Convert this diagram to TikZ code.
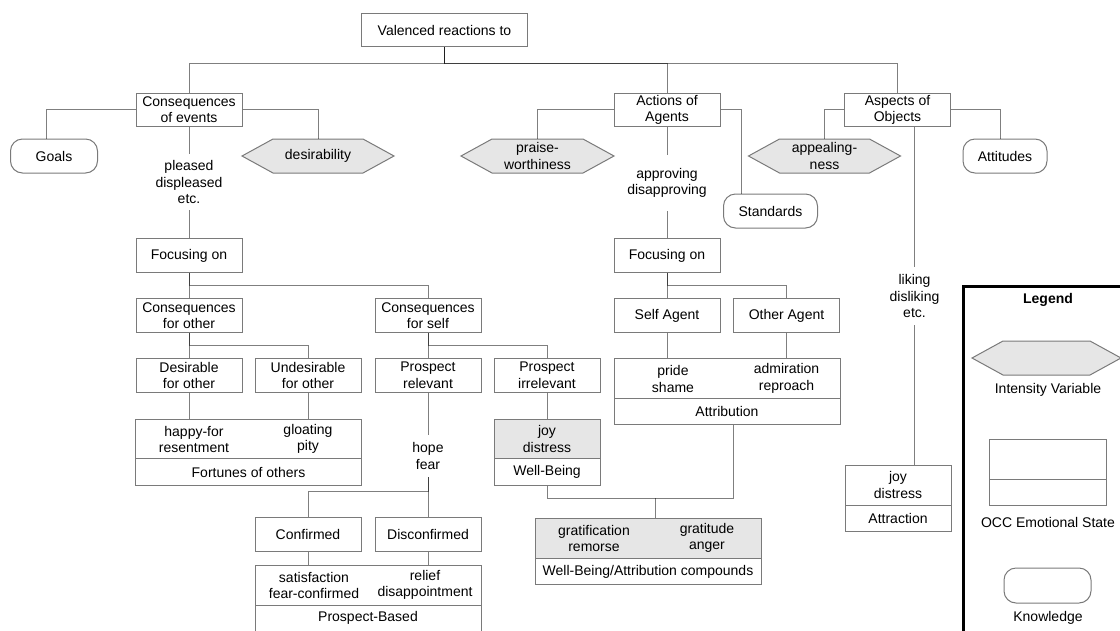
\documentclass[tikz,border=0pt]{standalone}
\usepackage{fontspec}
\setmainfont{Liberation Sans}
\definecolor{boxgray}{HTML}{7A7A7A}
\definecolor{stategray}{HTML}{E6E6E6}

% hexagonal "intensity variable" shape: name, x, y, width, text
\newcommand\hexnode[5]{%
  \filldraw[hexline] ({#2-#4/2},#3) -- ({#2-#4/2+31},{#3-17}) -- ({#2+#4/2-31},{#3-17})
     -- ({#2+#4/2},#3) -- ({#2+#4/2-31},{#3+17}) -- ({#2-#4/2+31},{#3+17}) -- cycle;
  \node[hexlbl, minimum width=#4pt] (#1) at (#2,#3) {#5};}

\begin{document}
\begin{tikzpicture}[x=1pt,y=-1pt,
  every node/.style={font=\fontsize{14}{16.5}\selectfont, text=black, inner sep=0pt, align=center},
  box/.style={draw=boxgray, line width=1pt, fill=white, minimum width=106pt, minimum height=33.5pt},
  know/.style={box, rounded corners=12pt, minimum height=34pt},
  state/.style={box, fill=stategray},
  hexline/.style={draw=boxgray, line width=1pt, fill=stategray},
  hexlbl/.style={minimum height=34pt},
  conn/.style={draw=black, draw opacity=0.5, line width=1pt},
]
\useasboundingbox (0,0) rectangle (1120,630);
\clip (0,0) rectangle (1120,630);

% ---------- top levels ----------
\node[box, minimum width=166.5pt] (val) at (444.5,30) {Valenced reactions to};
\node[box] (coe) at (189,109.8) {Consequences\\of events};
\node[box] (aoa) at (667,109.8) {Actions of\\Agents};
\node[box] (aso) at (897.5,109.8) {Aspects of\\Objects};

\node[know, minimum width=87pt] (goals) at (54,156) {Goals};
\hexnode{des}{318}{156}{152}{desirability}
\hexnode{pw}{537.5}{156}{153}{praise-\\worthiness}
\hexnode{app}{824.5}{156}{152}{appealing-\\ness}
\node[know, minimum width=84pt] (attd) at (1005,156) {Attitudes};
\node[know, minimum width=94pt] (std) at (770.5,211) {Standards};

% ---------- reaction labels ----------
\node[minimum height=56pt] (ple) at (189,182) {pleased\\displeased\\etc.};
\node[minimum height=56pt] (apr) at (667,183) {approving\\disapproving};
\node[minimum height=58pt] (lik) at (914.5,296) {liking\\disliking\\etc.};
\node[minimum height=42pt] (hop) at (428,456) {hope\\fear};

% ---------- focus ----------
\node[box] (foc1) at (189,255.5) {Focusing on};
\node[box] (foc2) at (667,255.5) {Focusing on};

\node[box] (cfo) at (189,315.5) {Consequences\\for other};
\node[box] (cfs) at (428,315.5) {Consequences\\for self};
\node[box] (sag) at (667,315.5) {Self Agent};
\node[box] (oag) at (786.5,315.5) {Other Agent};

\node[box] (dfo) at (189,375.3) {Desirable\\for other};
\node[box] (ufo) at (308,375.3) {Undesirable\\for other};
\node[box] (prl) at (428,375.3) {Prospect\\relevant};
\node[box] (pir) at (547,375.3) {Prospect\\irrelevant};

% ---------- emotional states ----------
\node[box, minimum width=226pt, minimum height=40pt] (att-t) at (727,378.5) {};
\node[box, minimum width=226pt, minimum height=26.5pt] (att-b) at (727,411.7) {Attribution};
\node (ps) at (673,379) {pride\\shame};
\node (ar) at (786.5,378.5) {admiration\\reproach};

\node[box, minimum width=226pt, minimum height=40pt] (fo-t) at (248.5,439) {};
\node[box, minimum width=226pt, minimum height=26.5pt] (fo-b) at (248.5,472) {Fortunes of others};
\node (hf) at (194,439.5) {happy-for\\resentment};
\node (gp) at (308,439) {gloating\\pity};

\node[state, minimum height=40pt] (wb-t) at (547,439) {joy\\distress};
\node[box, minimum height=26.5pt] (wb-b) at (547,472) {Well-Being};

\node[box] (cnf) at (308,534.5) {Confirmed};
\node[box] (dcf) at (428,534.5) {Disconfirmed};

\node[box, minimum width=226pt, minimum height=40pt] (pb-t) at (368,585) {};
\node[box, minimum width=226pt, minimum height=26.5pt] (pb-b) at (368,618.3) {Prospect-Based};
\node (sf) at (314,585.5) {satisfaction\\fear-confirmed};
\node (rd) at (425,585) {relief\\disappointment};

\node[state, minimum width=226pt, minimum height=40pt] (cm-t) at (648,538) {};
\node[box, minimum width=226pt, minimum height=26.5pt] (cm-b) at (648,571.5) {Well-Being/Attribution compounds};
\node (gr) at (594,538.5) {gratification\\remorse};
\node (ga) at (707,538) {gratitude\\anger};

\node[box, minimum height=40pt] (atr-t) at (898,485) {joy\\distress};
\node[box, minimum height=26.5pt] (atr-b) at (898,518.5) {Attraction};

% ---------- connectors ----------
\draw[conn] (val.south) -- ++(0,16) -| (coe.north);
\draw[conn] (val.south) -- ++(0,16) -| (aoa.north);
\draw[conn] (val.south) -- ++(0,16) -| (aso.north);

\draw[conn] (coe.west) -| ([xshift=-8pt]goals.north);
\draw[conn] (coe.east) -| (des.north);
\draw[conn] (coe.south) -- (ple.north);
\draw[conn] (ple.south) -- (foc1.north);

\draw[conn] (aoa.west) -| (pw.north);
\draw[conn] (aoa.east) -| ([xshift=-29.5pt]std.north);
\draw[conn] (aoa.south) -- (apr.north);
\draw[conn] (apr.south) -- (foc2.north);

\draw[conn] (aso.west) -| (app.north);
\draw[conn] (aso.east) -| ([xshift=-5pt]attd.north);
\draw[conn] (aso.south -| lik.north) -- (lik.north);
\draw[conn] (lik.south) -- (lik.south |- atr-t.north);

\draw[conn] (foc1.south) -- (cfo.north);
\draw[conn] (foc1.south) -- ++(0,13) -| (cfs.north);
\draw[conn] (foc2.south) -- (sag.north);
\draw[conn] (foc2.south) -- ++(0,13) -| (oag.north);

\draw[conn] (cfo.south) -- (dfo.north);
\draw[conn] (cfo.south) -- ++(0,13) -| (ufo.north);
\draw[conn] (cfs.south) -- (prl.north);
\draw[conn] (cfs.south) -- ++(0,13) -| (pir.north);

\draw[conn] (sag.south) -- (sag.south |- att-t.north);
\draw[conn] (oag.south) -- (oag.south |- att-t.north);
\draw[conn] (dfo.south) -- (dfo.south |- fo-t.north);
\draw[conn] (ufo.south) -- (ufo.south |- fo-t.north);
\draw[conn] (prl.south) -- (hop.north);
\draw[conn] (pir.south) -- (wb-t.north);

\draw[conn] (hop.south) -- ++(0,14) -| (cnf.north);
\draw[conn] (hop.south) -- (dcf.north);
\draw[conn] (cnf.south) -- (cnf.south |- pb-t.north);
\draw[conn] (dcf.south) -- (dcf.south |- pb-t.north);

\draw[conn] (wb-b.south) -- ++(0,13) -| ([xshift=6pt]att-b.south);
\coordinate (cmj) at (655,498);
\draw[conn] (cmj) -- (cmj |- cm-t.north);

% ---------- legend ----------
\node[draw=black, line width=2.5pt, minimum width=190pt, minimum height=380pt, anchor=north west] (leg) at (962,285) {};
\node[font=\fontsize{14}{16.5}\selectfont\bfseries] (legt) at (1048,300) {Legend};
\hexnode{lhex}{1046.5}{358}{149}{}
\node (lhext) at (1048,390) {Intensity Variable};
\node[box, minimum width=117pt, minimum height=40pt] (locc-t) at (1047.5,459) {};
\node[box, minimum width=117pt, minimum height=26pt] (locc-b) at (1047.5,492) {};
\node (locct) at (1048,522) {OCC Emotional State};
\node[know, minimum width=87pt, minimum height=35pt] (lknow) at (1047.5,585.5) {};
\node (lknowt) at (1048,618) {Knowledge};
\end{tikzpicture}
\end{document}
